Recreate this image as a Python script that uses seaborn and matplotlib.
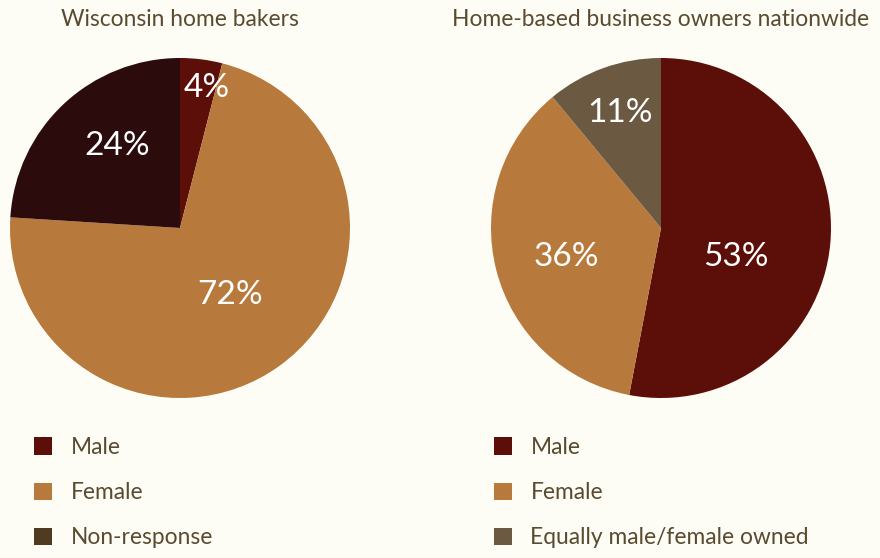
import matplotlib
matplotlib.use("Agg")
import matplotlib.pyplot as plt
import matplotlib.patches as mpatches
import numpy as np
import seaborn as sns

# Survey shares
wi_labels = ["Male", "Female", "Non-response"]
wi_values = [4, 72, 24]

us_labels = ["Male", "Female", "Equally male/female owned"]
us_values = [53, 36, 11]

titles = ["Wisconsin home bakers", "Home-based business owners nationwide"]

BG = "#fdfdf6"
TEXT = "#5a4a30"
wi_colors = ["#5c0e09", "#b8793d", "#2b0b0b"]
wi_legend_colors = ["#5c0e09", "#b8793d", "#4f3a22"]
us_colors = ["#5c0e09", "#b8793d", "#6b5a41"]

sns.set_theme(style="white")
plt.rcParams["font.family"] = ["Lato", "DejaVu Sans"]

fig = plt.figure(figsize=(8.8, 5.58), dpi=100, facecolor=BG)

ax_l = fig.add_axes([10 / 880, 1 - 398 / 558, 340 / 880, 340 / 558])
ax_r = fig.add_axes([491 / 880, 1 - 398 / 558, 340 / 880, 340 / 558])


def draw_pie(ax, values, colors, dist, offs):
    wedges, _ = ax.pie(values, colors=colors, startangle=90, counterclock=False,
                       wedgeprops=dict(linewidth=0), radius=1.0)
    for w, v, d, o in zip(wedges, values, dist, offs):
        ang = np.deg2rad((w.theta1 + w.theta2) / 2 + o)
        ax.text(d * np.cos(ang), d * np.sin(ang), f"{v}%", ha="center", va="center",
                color="white", fontsize=24)
    ax.set_xlim(-1, 1)
    ax.set_ylim(-1, 1)
    ax.set_aspect("equal")
    ax.axis("off")


draw_pie(ax_l, wi_values, wi_colors, [0.84, 0.49, 0.61], [-3.7, 0.7, -5.7])
draw_pie(ax_r, us_values, us_colors, [0.47, 0.58, 0.72], [-15.6, 2.6, -0.3])

fig.text(180 / 880, 1 - 20 / 558, titles[0], ha="center", va="center",
         color=TEXT, fontsize=16.4)
fig.text(661 / 880, 1 - 20 / 558, titles[1], ha="center", va="center",
         color=TEXT, fontsize=16.4)


def add_legend(x, labels, colors):
    handles = [mpatches.Patch(facecolor=c, edgecolor="none", label=l)
               for l, c in zip(labels, colors)]
    fig.legend(handles=handles, loc="upper left", bbox_to_anchor=(x, 1 - 437 / 558),
               frameon=False, fontsize=16.4, labelcolor=TEXT, handlelength=0.8,
               handleheight=0.8, handletextpad=0.8, labelspacing=1.06,
               borderaxespad=0, borderpad=0)


add_legend(34 / 880, wi_labels, wi_legend_colors)
add_legend(494 / 880, us_labels, us_colors)

fig.savefig("out.png", dpi=100, facecolor=BG)
